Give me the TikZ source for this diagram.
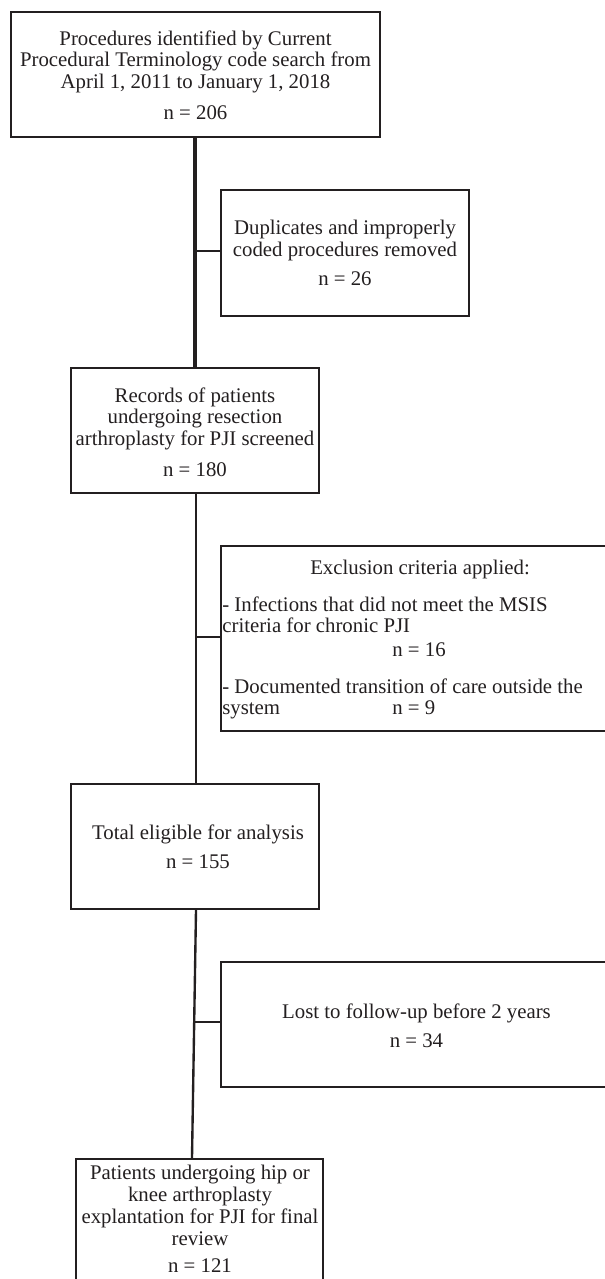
\documentclass[tikz,border=0pt]{standalone}
\usepackage{fontspec}
\setmainfont{Liberation Serif}
\usetikzlibrary{calc}
\definecolor{ink}{HTML}{231F20}
\tikzstyle{flowbox}=[rectangle,draw=ink,line width=1.25pt,inner sep=0pt,fill=white]
\tikzstyle{boxtext}=[inner sep=0pt,text=ink,align=center,font=\fontsize{11.84}{12.5}\selectfont]
\tikzstyle{trunk}=[draw=ink,line width=1.35pt]
\tikzstyle{branch}=[draw=ink,line width=1.25pt]

\begin{document}
\begin{tikzpicture}[x=0.02cm,y=-0.02cm]

   \useasboundingbox (0,0) rectangle (605,1279);
   \clip (0,0) rectangle (605,1279);

% boxes
    \foreach \pos/\name/\w/\h in {{(195.5,74.5)/src/7.38/2.5}, {(345,253)/dup/4.96/2.52}, {(195,430.5)/rec/4.96/2.5}, {(423,638.5)/excl/8.08/3.7}, {(195,846.5)/elig/4.96/2.5}, {(423,1024.5)/lost/8.08/2.5}, {(199.5,1221.5)/fin/4.94/2.5}}
        \node[flowbox,minimum width=\w cm,minimum height=\h cm] (\name) at \pos {};

% junctions on the main line
   \coordinate (j1) at (195,251);
   \coordinate (j2) at (196,637);
   \coordinate (j3) at (194,1022);

% connectors
    \path[trunk,line width=1.9pt] (src.south -| j1) -- (rec.north -| j1);
    \path[branch] (j1) -- (j1 -| dup.west);
    \path[trunk] (rec.south -| j2) -- (elig.north -| j2);
    \path[branch] (j2) -- (j2 -| excl.west);
    \path[trunk] ($(elig.south)+(1,0)$) -- ($(fin.north)+(-7.5,0)$);
    \path[branch] (j3) -- (j3 -| lost.west);

% texts
  \node[boxtext,anchor=north] (srcText) at (195.5,30) {Procedures identified by Current\\Procedural Terminology code search from\\April 1, 2011 to January 1, 2018\\[5pt]n = 206};
  \node[boxtext,anchor=north] (dupText) at (345,220) {Duplicates and improperly\\coded procedures removed\\[4pt]n = 26};
  \node[boxtext,anchor=north] (recText) at (195,387) {Records of patients\\undergoing resection\\arthroplasty for PJI screened\\[5pt]n = 180};

%exclusion
  \node[boxtext,anchor=base] (exclHead) at (420,574) {Exclusion criteria applied:};
  \node[boxtext,anchor=north west,align=left] (exclA) at (222,596) {- Infections that did not meet the MSIS\\criteria for chronic PJI};
  \node[boxtext,anchor=base west] (exclAn) at (392,656) {n = 16};
  \node[boxtext,anchor=north west,align=left] (exclB) at (222,678) {- Documented transition of care outside the\\\makebox[3.4cm][l]{system}n = 9};

  \node[boxtext,anchor=north] (eligText) at (198,824) {Total eligible for analysis\\[4pt]n = 155};
  \node[boxtext,anchor=north] (lostText) at (416.5,1003) {Lost to follow-up before 2 years\\[4pt]n = 34};
  \node[boxtext,anchor=north] (finText) at (200,1165) {Patients undergoing hip or\\knee arthroplasty\\explantation for PJI for final\\review\\[2.5pt]n = 121};

\end{tikzpicture}
\end{document}
